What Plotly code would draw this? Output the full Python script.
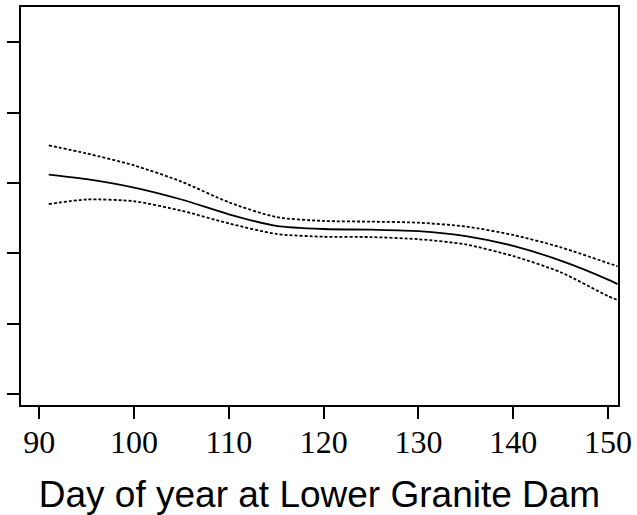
import plotly.graph_objects as go

# Smoothed fit against day of year, with pointwise confidence band
day = [91, 95, 100, 105, 110, 115, 120, 125, 130, 135, 140, 145, 150, 151]
fit = [0.624, 0.611, 0.587, 0.553, 0.511, 0.478, 0.469, 0.467, 0.463, 0.449, 0.421, 0.379, 0.325, 0.312]
upper = [0.707, 0.684, 0.650, 0.604, 0.545, 0.503, 0.492, 0.490, 0.487, 0.476, 0.452, 0.417, 0.372, 0.363]
lower = [0.540, 0.553, 0.548, 0.521, 0.485, 0.455, 0.447, 0.446, 0.440, 0.425, 0.392, 0.346, 0.278, 0.267]

x_ticks = [90, 100, 110, 120, 130, 140, 150]
y_ticks = [0.0, 0.2, 0.4, 0.6, 0.8, 1.0]

fig = go.Figure()
for band in (upper, lower):
    fig.add_trace(go.Scatter(
        x=day, y=band, mode="lines",
        line=dict(color="black", width=1.8, dash="3px,2px", shape="spline", smoothing=0.7),
        hoverinfo="skip", showlegend=False,
    ))
fig.add_trace(go.Scatter(
    x=day, y=fit, mode="lines",
    line=dict(color="black", width=1.8, shape="spline", smoothing=0.7),
    showlegend=False,
))

axis_common = dict(
    showline=True, linecolor="black", linewidth=2, mirror=True,
    ticks="outside", ticklen=12, tickwidth=1.5, tickcolor="black",
    showgrid=False, zeroline=False, automargin=False,
)

fig.update_layout(
    width=637, height=515,
    margin=dict(l=21, r=19, t=7, b=110),
    paper_bgcolor="white", plot_bgcolor="white",
    xaxis=dict(
        range=[88.07, 151.05], tickvals=x_ticks,
        ticktext=[str(v) for v in x_ticks],
        tickfont=dict(family="Liberation Serif", size=32, color="black"),
        ticklabelstandoff=-4,
        title=dict(text="Day of year at Lower Granite Dam",
                   font=dict(family="Liberation Sans", size=37, color="black"),
                   standoff=23),
        **axis_common,
    ),
    yaxis=dict(
        range=[-0.032, 1.101], tickvals=y_ticks, showticklabels=False,
        **axis_common,
    ),
)

fig.write_html("out.html")
